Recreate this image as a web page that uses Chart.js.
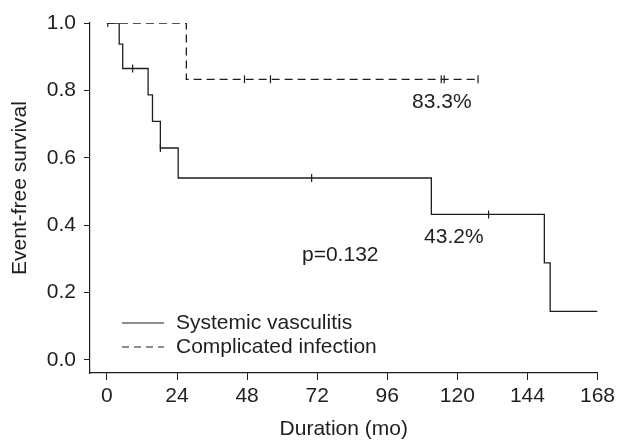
<!DOCTYPE html>
<html>
<head>
<meta charset="utf-8">
<script src="https://cdn.jsdelivr.net/npm/chart.js@4/dist/chart.umd.min.js"></script>
<style>
  html, body { margin: 0; padding: 0; background: #fff; }
  #wrap { width: 619px; height: 443px; }
</style>
</head>
<body>
<div id="wrap"><canvas id="km" width="619" height="443"></canvas></div>
<script>
// Kaplan-Meier curves
const xTicks = [0, 24, 48, 72, 96, 120, 144, 168];
const yTicks = [0, 0.2, 0.4, 0.6, 0.8, 1.0];

// systemic vasculitis: step times and survival after each drop
const vascTimes = [0, 4.2, 5.4, 14.1, 15.6, 18.3, 24.4, 111.1, 149.8, 151.8, 168];
const vascSurv  = [1, 0.9375, 0.865, 0.787, 0.708, 0.629, 0.540, 0.432, 0.288, 0.144, 0.144];
const vascCensorTimes = [0.3, 8.8, 18.3, 70.1, 130.7];
const vascCensorSurv  = [1, 0.865, 0.629, 0.540, 0.432];

// complicated infection
const infTimes = [0, 27.2, 127.1];
const infSurv  = [1, 0.833, 0.833];
const infCensorTimes = [47.1, 56.0, 114.5, 115.5, 127.1];
const infCensorSurv  = [0.833, 0.833, 0.833, 0.833, 0.833];

const notes = [
  { text: '83.3%', x: 114.7, y: 0.766 },
  { text: '43.2%', x: 118.8, y: 0.365 },
  { text: 'p=0.132', x: 79.9, y: 0.312 }
];

const INK = '#1e1e1e';
const FONT = '"Liberation Sans", Arial, sans-serif';

const pts = (xs, ys) => xs.map((x, i) => ({ x, y: ys[i] }));

// legend, y title and text labels inside the plot
const extras = {
  id: 'extras',
  afterDraw(chart) {
    const { ctx, scales: { x, y }, chartArea } = chart;
    ctx.save();
    ctx.fillStyle = INK;
    ctx.font = '21px ' + FONT;
    ctx.textAlign = 'center';
    ctx.textBaseline = 'middle';
    notes.forEach(n => ctx.fillText(n.text, x.getPixelForValue(n.x), y.getPixelForValue(n.y)));

    // y axis title, sits a little above the plot centre like the original
    ctx.save();
    ctx.translate(20, 188);
    ctx.rotate(-Math.PI / 2);
    ctx.fillText('Event-free survival', 0, 0);
    ctx.restore();

    const lx = chartArea.left + 32, ty = 323;
    ctx.strokeStyle = INK;
    ctx.lineWidth = 1.2;
    ctx.beginPath(); ctx.moveTo(lx, ty); ctx.lineTo(lx + 42, ty); ctx.stroke();
    ctx.setLineDash([7, 5]);
    ctx.beginPath(); ctx.moveTo(lx, ty + 24); ctx.lineTo(lx + 42, ty + 24); ctx.stroke();
    ctx.setLineDash([]);
    ctx.textAlign = 'left';
    ctx.fillText('Systemic vasculitis', lx + 54, ty);
    ctx.fillText('Complicated infection', lx + 54, ty + 24);
    ctx.restore();
  }
};

new Chart(document.getElementById('km'), {
  type: 'line',
  data: {
    datasets: [
      {
        label: 'Systemic vasculitis',
        data: pts(vascTimes, vascSurv),
        borderColor: INK, borderWidth: 1.3,
        stepped: 'before', pointRadius: 0, fill: false
      },
      {
        label: 'Complicated infection',
        data: pts(infTimes, infSurv),
        borderColor: INK, borderWidth: 1.3, borderDash: [8, 5],
        stepped: 'before', pointRadius: 0, fill: false
      },
      {
        label: 'vasc censored',
        data: pts(vascCensorTimes, vascCensorSurv),
        showLine: false, pointStyle: 'line', rotation: 90,
        pointRadius: 4, pointBorderColor: INK, pointBorderWidth: 1.2
      },
      {
        label: 'inf censored',
        data: pts(infCensorTimes, infCensorSurv),
        showLine: false, pointStyle: 'line', rotation: 90,
        pointRadius: 4, pointBorderColor: INK, pointBorderWidth: 1.2
      }
    ]
  },
  options: {
    responsive: false,
    animation: false,
    layout: { padding: { top: 23, right: 20, left: 0, bottom: 0 } },
    plugins: { legend: { display: false }, tooltip: { enabled: false } },
    scales: {
      x: {
        type: 'linear',
        min: -5.8, max: 168,
        afterBuildTicks: s => { s.ticks = xTicks.map(v => ({ value: v })); },
        afterFit: s => { s.height = 70; },
        grid: { display: true, drawOnChartArea: false, drawTicks: true, tickLength: 7, color: INK, lineWidth: 1 },
        border: { display: true, color: INK, width: 1.2 },
        ticks: { color: INK, font: { family: FONT, size: 21 }, padding: 4, maxRotation: 0 },
        title: { display: true, text: 'Duration (mo)', color: INK, font: { family: FONT, size: 21 }, padding: { top: 0, bottom: 1 } }
      },
      y: {
        type: 'linear',
        min: -0.0386, max: 1.0,
        afterBuildTicks: s => { s.ticks = yTicks.map(v => ({ value: v })); },
        afterFit: s => { s.width = 90; },
        grid: { display: true, drawOnChartArea: false, drawTicks: true, tickLength: 6, color: INK, lineWidth: 1 },
        border: { display: true, color: INK, width: 1.2 },
        ticks: { color: INK, font: { family: FONT, size: 21 }, padding: 8, callback: v => v.toFixed(1) }
      }
    }
  },
  plugins: [extras]
});
</script>
</body>
</html>
